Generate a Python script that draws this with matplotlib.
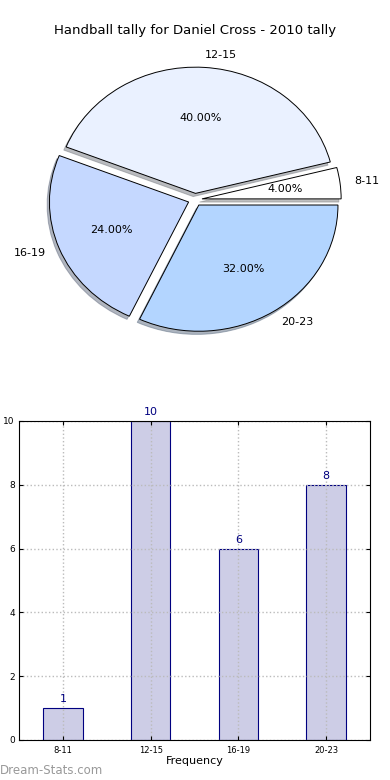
import matplotlib.pyplot as plt

labels = ["8-11", "12-15", "16-19", "20-23"]
values = [1, 10, 6, 8]
pie_colors = ["#ffffff", "#eaf1ff", "#c5d8ff", "#b3d5ff"]
explode = [0.05, 0.05, 0.05, 0.05]

fig = plt.figure(figsize=(3.9, 7.8), dpi=100)

# pie on top
ax1 = fig.add_axes([0.1077, 0.566, 0.785, 0.356])
wedges, texts, autotexts = ax1.pie(values, labels=labels, colors=pie_colors,
                                   explode=explode, autopct="%1.2f%%",
                                   shadow=dict(ox=-0.012, oy=-0.018, shade=0.5),
                                   wedgeprops=dict(edgecolor="black", linewidth=0.7),
                                   textprops=dict(fontsize=8))
ax1.set_aspect("auto")
ax1.set_xlim(-1.1, 1.1)
ax1.set_ylim(-1.1, 1.1)
fig.text(0.5, 0.961, "Handball tally for Daniel Cross - 2010 tally",
         ha="center", va="center", fontsize=9.5)

# bar chart below
ax2 = fig.add_axes([0.0487, 0.0513, 0.9, 0.409])
x = range(len(labels))
bars = ax2.bar(x, values, width=0.45, color="#cdcde6", edgecolor="#000080", linewidth=0.8)
for xi, v in zip(x, values):
    ax2.text(xi, v + 0.12, str(v), ha="center", va="bottom", fontsize=8, color="#000080")
ax2.set_xlim(-0.5, 3.5)
ax2.set_ylim(0, 10)
ax2.set_xticks(list(x))
ax2.set_xticklabels(labels, fontsize=6)
ax2.set_yticks([0, 2, 4, 6, 8, 10])
ax2.tick_params(axis="y", labelsize=6.5, direction="in", right=True, length=3, pad=3)
ax2.tick_params(axis="x", direction="in", top=True, length=3, pad=4)
ax2.grid(True, linestyle=":", color="#bbbbbb", linewidth=1)
ax2.set_axisbelow(False)
for sp in ax2.spines.values():
    sp.set_zorder(5)
ax2.set_xlabel("Frequency", fontsize=8, labelpad=1)
ax2.set_ylabel("Matches Played", fontsize=8)
ax2.yaxis.set_label_coords(-0.05, 0.5)

fig.text(0.0, 0.012, "Dream-Stats.com", ha="left", va="center", fontsize=8.5,
         color="#999999", fontweight="medium")

fig.savefig("out.png", dpi=100)
